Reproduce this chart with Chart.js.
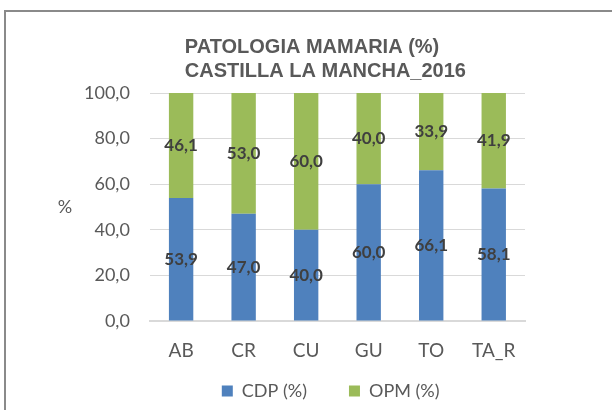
<!DOCTYPE html>
<html>
<head>
<meta charset="utf-8">
<script src="https://cdn.jsdelivr.net/npm/chart.js@4"></script>
<style>
  body { margin: 0; background: #fff; }
  #wrap { position: relative; width: 612px; height: 410px; overflow: hidden; }
  #frame { position: absolute; left: 4px; top: 10px; width: 700px; height: 500px;
           border-left: 2px solid #8a8a8a; border-top: 2px solid #8a8a8a; }
  canvas { position: absolute; left: 0; top: 0; }
</style>
</head>
<body>
<div id="wrap">
  <div id="frame"></div>
  <canvas id="chart" width="612" height="410"></canvas>
</div>
<script>
const categories = ['AB', 'CR', 'CU', 'GU', 'TO', 'TA_R'];
const cdpValues = [53.9, 47.0, 40.0, 60.0, 66.1, 58.1];
const opmValues = [46.1, 53.0, 60.0, 40.0, 33.9, 41.9];
const titleLines = ['PATOLOGIA MAMARIA (%)', 'CASTILLA LA MANCHA_2016'];
const yUnit = '%';

const fmt = v => v.toFixed(1).replace('.', ',');

// title, "%" label and the value labels inside the bars
const extras = {
    id: 'extras',
    afterDatasetsDraw(chart) {
        const ctx = chart.ctx;
        const area = chart.chartArea;
        ctx.save();
        ctx.fillStyle = '#3f3f3f';
        ctx.font = 'bold 17px Lato';
        ctx.textAlign = 'center';
        ctx.textBaseline = 'middle';
        chart.data.datasets.forEach((ds, i) => {
            chart.getDatasetMeta(i).data.forEach((bar, j) => {
                ctx.fillText(fmt(ds.data[j]), bar.x, (bar.y + bar.base) / 2);
            });
        });

        ctx.fillStyle = '#595959';
        ctx.font = 'bold 20px "Liberation Sans"';
        ctx.textAlign = 'left';
        ctx.textBaseline = 'alphabetic';
        ctx.fillText(titleLines[0], area.left + 35, 53);
        ctx.fillText(titleLines[1], area.left + 35, 77);

        ctx.font = '18px Lato';
        ctx.textAlign = 'center';
        ctx.textBaseline = 'middle';
        ctx.fillText(yUnit, area.left - 85, (area.top + area.bottom) / 2);
        ctx.restore();
    }
};

new Chart(document.getElementById('chart').getContext('2d'), {
    type: 'bar',
    data: {
        labels: categories,
        datasets: [
            { label: 'CDP (%)', data: cdpValues, backgroundColor: '#4f81bd' },
            { label: 'OPM (%)', data: opmValues, backgroundColor: '#9bbb59' }
        ]
    },
    options: {
        responsive: false,
        animation: false,
        layout: { padding: { top: 93, left: 64, right: 87, bottom: 0 } },
        datasets: { bar: { barPercentage: 0.39, categoryPercentage: 1 } },
        scales: {
            x: {
                stacked: true,
                grid: { display: false, drawTicks: false },
                border: { color: '#d9d9d9', width: 2 },
                ticks: { color: '#595959', font: { family: 'Lato', size: 19 }, padding: 18 },
                afterFit(s) { s.height = 55; }
            },
            y: {
                stacked: true,
                min: 0, max: 100,
                grid: { color: '#d9d9d9', drawTicks: false },
                border: { display: false },
                ticks: { stepSize: 20, autoSkip: false, color: '#595959', font: { family: 'Lato', size: 18 }, padding: 20,
                         callback: v => fmt(v) }
            }
        },
        plugins: {
            title: { display: false },
            tooltip: { enabled: false },
            legend: {
                position: 'bottom',
                fullSize: false,
                labels: {
                    color: '#595959', font: { family: 'Lato', size: 18 }, boxWidth: 11, boxHeight: 11, padding: 6,
                    // widen the gap between the two entries, as in the original
                    generateLabels(chart) {
                        const items = Chart.defaults.plugins.legend.labels.generateLabels(chart);
                        items[0].text += '\u2003\u2003\u2002';
                        items[1].text += '\u2003';
                        return items;
                    }
                }
            }
        }
    },
    plugins: [extras]
});
</script>
</body>
</html>
